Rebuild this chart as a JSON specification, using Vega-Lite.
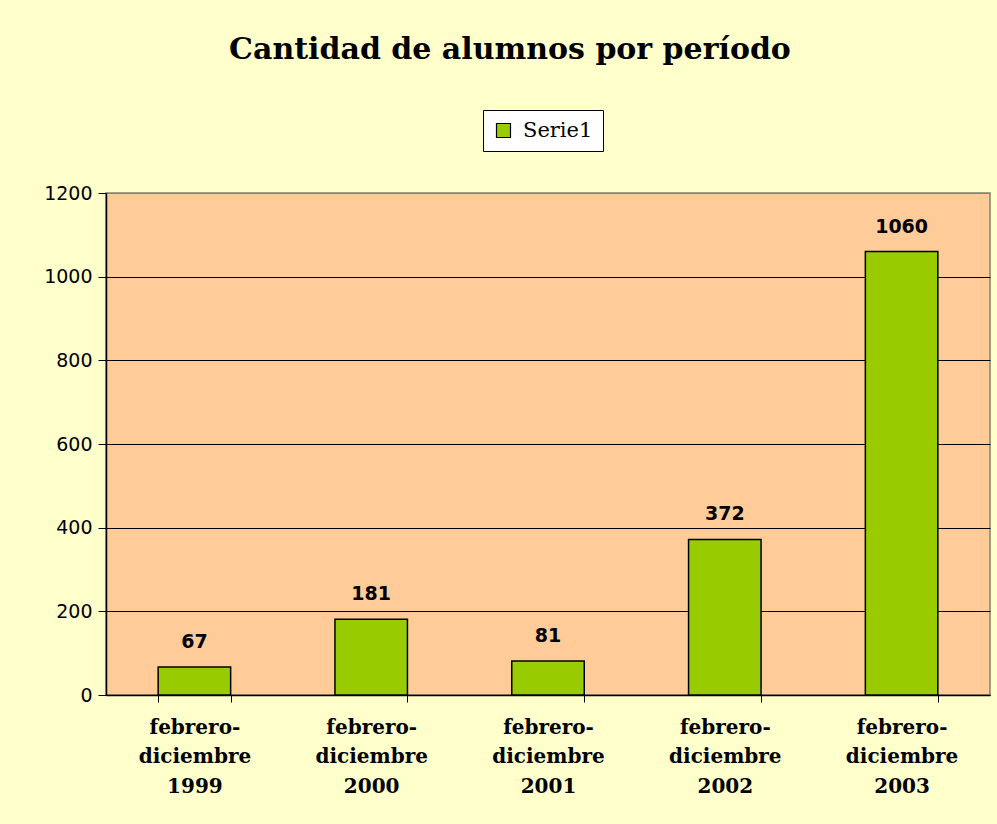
{
  "$schema": "https://vega.github.io/schema/vega-lite/v6.json",
  "autosize": "none",
  "width": 884,
  "height": 502,
  "padding": {"left": 106, "top": 193, "right": 7, "bottom": 129},
  "background": "#FFFFCC",
  "title": {
    "text": "Cantidad de alumnos por período",
    "font": "DejaVu Serif",
    "fontWeight": "bold",
    "fontSize": 30,
    "color": "black",
    "anchor": "middle",
    "dx": -38,
    "baseline": "alphabetic",
    "offset": 21
  },
  "data": {
    "values": [
      {"periodo": "febrero-|diciembre|1999", "alumnos": 67, "serie": "Serie1"},
      {"periodo": "febrero-|diciembre|2000", "alumnos": 181, "serie": "Serie1"},
      {"periodo": "febrero-|diciembre|2001", "alumnos": 81, "serie": "Serie1"},
      {"periodo": "febrero-|diciembre|2002", "alumnos": 372, "serie": "Serie1"},
      {"periodo": "febrero-|diciembre|2003", "alumnos": 1060, "serie": "Serie1"}
    ]
  },
  "encoding": {
    "x": {
      "field": "periodo",
      "type": "nominal",
      "sort": null,
      "scale": {"paddingInner": 0.59, "paddingOuter": 0.295},
      "axis": {
        "title": null,
        "labelAngle": 0,
        "labelExpr": "split(datum.label, '|')",
        "labelFont": "DejaVu Serif",
        "labelFontWeight": "bold",
        "labelFontSize": 20,
        "labelColor": "black",
        "labelLineHeight": 29.5,
        "labelPadding": 15,
        "labelBaseline": "top",
        "tickBand": "extent",
        "tickColor": "black",
        "tickSize": 7,
        "domainColor": "black",
        "domainWidth": 1.5,
        "grid": false
      }
    },
    "y": {
      "field": "alumnos",
      "type": "quantitative",
      "scale": {"domain": [0, 1200], "nice": false},
      "axis": {
        "title": null,
        "values": [0, 200, 400, 600, 800, 1000, 1200],
        "format": "d",
        "labelFont": "DejaVu Sans",
        "labelFontSize": 19,
        "labelColor": "black",
        "labelPadding": 6,
        "tickColor": "black",
        "tickSize": 8,
        "domainColor": "black",
        "domainWidth": 1.5,
        "grid": true,
        "gridColor": {"condition": {"test": "datum.value == 1200", "value": "#808080"}, "value": "black"},
        "gridOpacity": 1,
        "gridWidth": 1.2
      }
    }
  },
  "layer": [
    {
      "mark": {"type": "bar", "stroke": "black", "strokeWidth": 1.5},
      "encoding": {
        "color": {
          "field": "serie",
          "type": "nominal",
          "scale": {"range": ["#99CC00"]},
          "legend": {
            "title": null,
            "orient": "none",
            "legendX": 377,
            "legendY": -83,
            "symbolType": "square",
            "symbolSize": 196,
            "symbolStrokeColor": "black",
            "symbolStrokeWidth": 1.2,
            "labelFont": "DejaVu Serif",
            "labelFontSize": 21,
            "labelColor": "black",
            "labelOffset": 9,
            "fillColor": "white",
            "strokeColor": "black",
            "padding": 10
          }
        }
      }
    },
    {
      "mark": {
        "type": "text",
        "font": "DejaVu Sans",
        "fontWeight": "bold",
        "fontSize": 19,
        "color": "black",
        "baseline": "alphabetic",
        "dy": -19
      },
      "encoding": {
        "text": {"field": "alumnos", "type": "quantitative"}
      }
    }
  ],
  "config": {
    "view": {"fill": "#FFCC99", "stroke": "#808080", "strokeWidth": 1.5}
  }
}
